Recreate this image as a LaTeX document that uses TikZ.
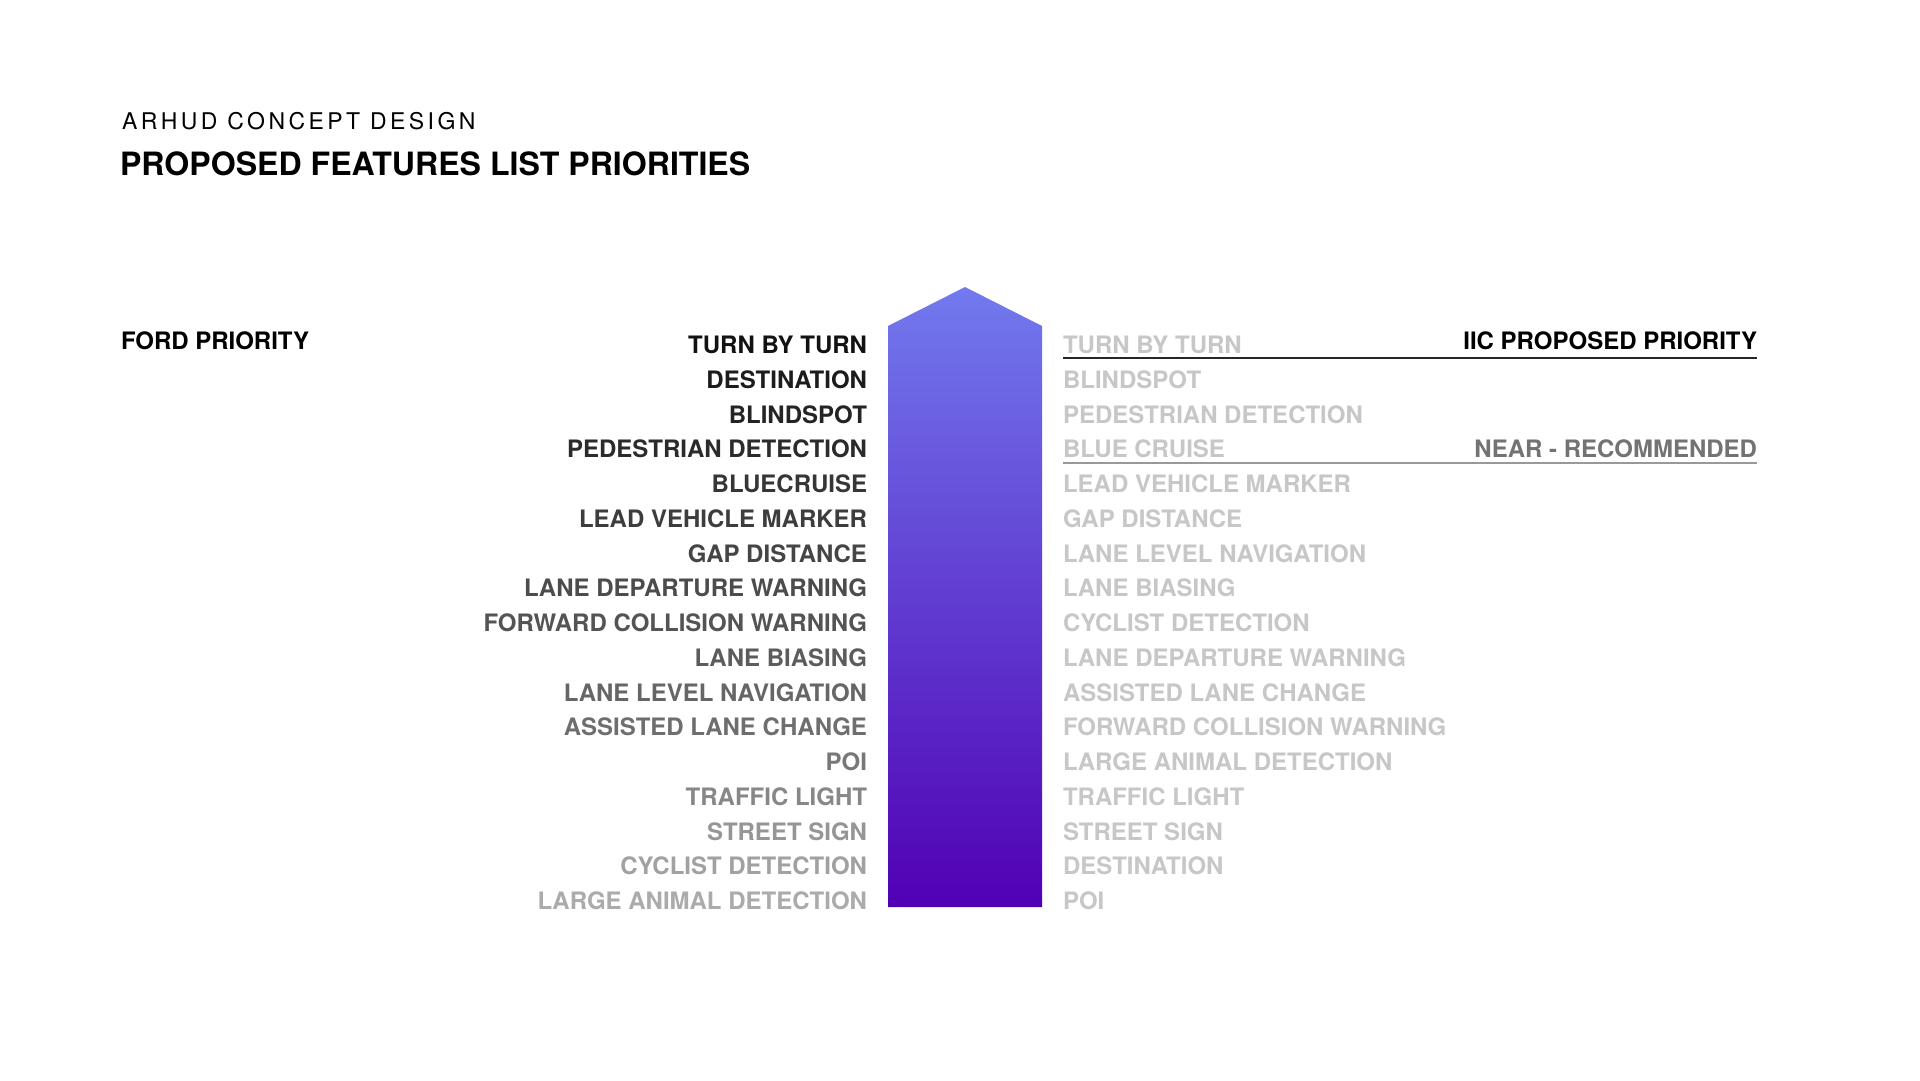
\documentclass[tikz,border=0pt]{standalone}
\usepackage{fontspec}
\setmainfont{TeX Gyre Heros}
\newfontfamily\spacedfont[LetterSpace=15]{TeX Gyre Heros}
\definecolor{arrowtop}{RGB}{114,122,238}
\definecolor{arrowbot}{RGB}{80,0,180}

\tikzset{every node/.style={inner sep=0pt, outer sep=0pt},
  ford/.style={anchor=base east, font=\fontsize{24}{24}\selectfont\bfseries},
  iic/.style={anchor=base west, font=\fontsize{24}{24}\selectfont\bfseries, text=black!22},
  head/.style={font=\fontsize{24}{24}\selectfont\bfseries}}

\begin{document}
\begin{tikzpicture}[x=1pt,y=-1pt]
  \useasboundingbox [fill=white] (0,0) rectangle (1920,1080);
  \node [anchor=base west, font=\spacedfont\fontsize{23}{23}\selectfont] (sub) at (122,129.5) {ARHUD CONCEPT DESIGN};
  \node [anchor=base west, font=\fontsize{32.1}{32}\selectfont\bfseries] (title) at (120,175) {PROPOSED FEATURES LIST PRIORITIES};
  \node [head, anchor=base west] (fordhead) at (121,349.3) {FORD PRIORITY};
  \node [head, anchor=base east] (iichead) at (1757,349.3) {IIC PROPOSED PRIORITY};
  \node [head, anchor=base east, text=black!55] (near) at (1757,457.8) {NEAR - RECOMMENDED};
  \coordinate (iicL) at (1063,357.8);
  \coordinate (iicR) at (1757,357.8);
  \coordinate (nearL) at (1063,463.2);
  \coordinate (nearR) at (1757,463.2);
  \draw [black!85, line width=2.2pt] (iicL) -- (iicR);
  \draw [black!40, line width=2.2pt] (nearL) -- (nearR);
  % priority arrow
  \shade [top color=arrowtop, bottom color=arrowbot] (888,326) -- (965,287) -- (1042,326) -- (1042,907) -- (888,907) -- cycle;
  % ford list
  \node [ford, text=black!93] (f1) at (867,353.6) {TURN BY TURN};
  \node [ford, text=black!89] (f2) at (867,388.3) {DESTINATION};
  \node [ford, text=black!86] (f3) at (867,423.1) {BLINDSPOT};
  \node [ford, text=black!83] (f4) at (867,457.8) {PEDESTRIAN DETECTION};
  \node [ford, text=black!79] (f5) at (867,492.6) {BLUECRUISE};
  \node [ford, text=black!76] (f6) at (867,527.3) {LEAD VEHICLE MARKER};
  \node [ford, text=black!73] (f7) at (867,562.0) {GAP DISTANCE};
  \node [ford, text=black!70] (f8) at (867,596.8) {LANE DEPARTURE WARNING};
  \node [ford, text=black!67] (f9) at (867,631.5) {FORWARD COLLISION WARNING};
  \node [ford, text=black!64] (f10) at (867,666.3) {LANE BIASING};
  \node [ford, text=black!60] (f11) at (867,701.0) {LANE LEVEL NAVIGATION};
  \node [ford, text=black!57] (f12) at (867,735.7) {ASSISTED LANE CHANGE};
  \node [ford, text=black!53] (f13) at (867,770.5) {POI};
  \node [ford, text=black!47] (f14) at (867,805.2) {TRAFFIC LIGHT};
  \node [ford, text=black!41] (f15) at (867,840.0) {STREET SIGN};
  \node [ford, text=black!37] (f16) at (867,874.7) {CYCLIST DETECTION};
  \node [ford, text=black!33] (f17) at (867,909.4) {LARGE ANIMAL DETECTION};
  % iic list
  \node [iic] (i1) at (1063,353.6) {TURN BY TURN};
  \node [iic] (i2) at (1063,388.3) {BLINDSPOT};
  \node [iic] (i3) at (1063,423.1) {PEDESTRIAN DETECTION};
  \node [iic] (i4) at (1063,457.8) {BLUE CRUISE};
  \node [iic] (i5) at (1063,492.6) {LEAD VEHICLE MARKER};
  \node [iic] (i6) at (1063,527.3) {GAP DISTANCE};
  \node [iic] (i7) at (1063,562.0) {LANE LEVEL NAVIGATION};
  \node [iic] (i8) at (1063,596.8) {LANE BIASING};
  \node [iic] (i9) at (1063,631.5) {CYCLIST DETECTION};
  \node [iic] (i10) at (1063,666.3) {LANE DEPARTURE WARNING};
  \node [iic] (i11) at (1063,701.0) {ASSISTED LANE CHANGE};
  \node [iic] (i12) at (1063,735.7) {FORWARD COLLISION WARNING};
  \node [iic] (i13) at (1063,770.5) {LARGE ANIMAL DETECTION};
  \node [iic] (i14) at (1063,805.2) {TRAFFIC LIGHT};
  \node [iic] (i15) at (1063,840.0) {STREET SIGN};
  \node [iic] (i16) at (1063,874.7) {DESTINATION};
  \node [iic] (i17) at (1063,909.4) {POI};
\end{tikzpicture}
\end{document}
